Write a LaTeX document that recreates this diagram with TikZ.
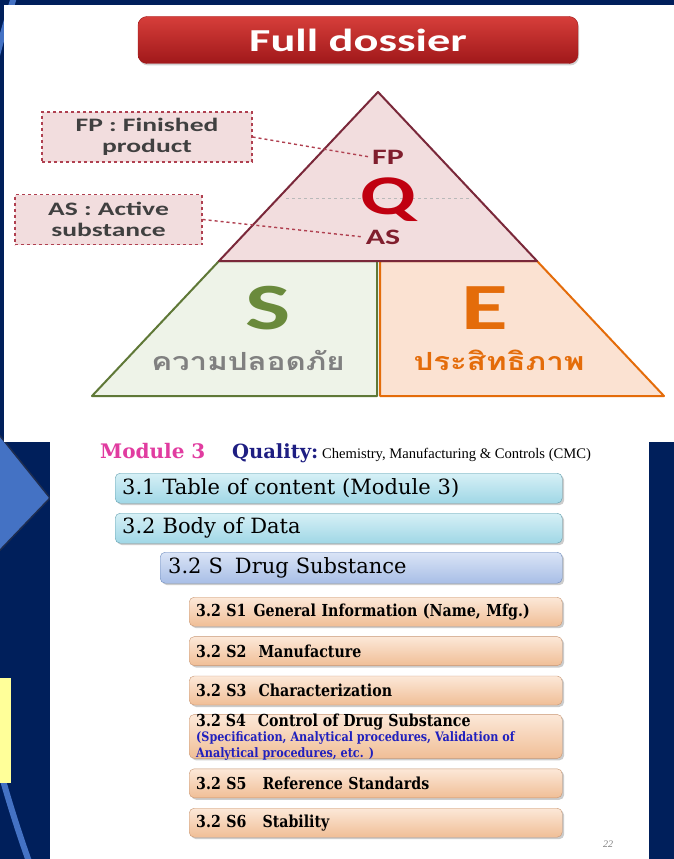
\documentclass[tikz,border=0pt]{standalone}
\usepackage{fontspec}
\usepackage{tikz}
\usetikzlibrary{positioning, shadows}

\newfontfamily\calfont[FakeStretch=1.45]{Carlito}
\newfontfamily\thaifont[Script=Thai,FakeStretch=1.25]{Loma}
\newfontfamily\tocfont{DejaVu Serif}
\newfontfamily\itemfont[FakeStretch=0.86]{DejaVu Serif}
\newfontfamily\timesfont{Liberation Serif}

\definecolor{slidenavy}{RGB}{0,31,91}
\definecolor{arcblue}{RGB}{68,114,196}
\definecolor{chevronedge}{RGB}{30,45,80}
\definecolor{noteyellow}{RGB}{255,255,153}
\definecolor{dossiertop}{RGB}{214,62,58}
\definecolor{dossierbottom}{RGB}{160,24,26}
\definecolor{qfill}{RGB}{242,221,222}
\definecolor{qline}{RGB}{122,40,58}
\definecolor{qred}{RGB}{192,0,16}
\definecolor{fpred}{RGB}{128,30,45}
\definecolor{notered}{RGB}{176,64,80}
\definecolor{notetext}{RGB}{64,64,64}
\definecolor{sfill}{RGB}{238,243,232}
\definecolor{sline}{RGB}{95,120,55}
\definecolor{sletter}{RGB}{106,138,60}
\definecolor{efill}{RGB}{251,226,210}
\definecolor{eline}{RGB}{228,108,10}
\definecolor{modpink}{RGB}{225,60,160}
\definecolor{qualnavy}{RGB}{30,30,130}
\definecolor{toctop}{RGB}{214,240,246}
\definecolor{tocbottom}{RGB}{160,215,230}
\definecolor{tocline}{RGB}{100,160,175}
\definecolor{drugtop}{RGB}{218,228,246}
\definecolor{drugbottom}{RGB}{168,190,230}
\definecolor{drugline}{RGB}{110,140,190}
\definecolor{itemtop}{RGB}{252,232,216}
\definecolor{itembottom}{RGB}{240,190,150}
\definecolor{itemline}{RGB}{200,150,115}
\definecolor{notblue}{RGB}{32,32,190}

\begin{document}
\begin{tikzpicture}[
  x=1pt, y=-1pt,
  dossier/.style={rounded corners=9pt, top color=dossiertop, bottom color=dossierbottom, draw=dossierbottom,
    minimum width=440pt, minimum height=47pt, text=white, font=\calfont\bfseries\fontsize{32}{36}\selectfont,
    drop shadow={shadow xshift=1pt, shadow yshift=-2pt, opacity=0.35}},
  notebox/.style={draw=notered, dashed, line width=1.3pt, fill=qfill, minimum width=#1, minimum height=50pt,
    align=center, text=notetext, font=\calfont\bfseries\fontsize{19}{21}\selectfont},
  leader/.style={notered, dashed, line width=1.4pt},
  qlabel/.style={text=fpred, inner sep=2pt, font=\calfont\bfseries\fontsize{22}{24}\selectfont},
  bigletter/.style={font=\calfont\bfseries\fontsize{66}{70}\selectfont},
  thailabel/.style={font=\thaifont\bfseries\fontsize{25}{28}\selectfont},
  listbox/.style={rounded corners=5pt, minimum height=29pt, align=left, inner xsep=7pt, inner ysep=0pt,
    drop shadow={shadow xshift=2pt, shadow yshift=-2pt, opacity=0.4}},
  tocbox/.style={listbox, draw=tocline, top color=toctop, bottom color=tocbottom, minimum height=30pt,
    text width=433pt, font=\tocfont\fontsize{21}{24}\selectfont},
  drugbox/.style={listbox, draw=drugline, top color=drugtop, bottom color=drugbottom, minimum height=31pt,
    inner xsep=8pt, text width=386pt, font=\tocfont\fontsize{21}{24}\selectfont},
  itembox/.style={listbox, draw=itemline, top color=itemtop, bottom color=itembottom,
    text width=359pt, font=\itemfont\bfseries\fontsize{16.5}{19}\selectfont}
]
\useasboundingbox (0,0) rectangle (674,859);
\fill[slidenavy] (0,0) rectangle (674,859);
\begin{scope}
  \clip (0,0) rectangle (674,859);
  \draw[arcblue, line width=6pt] (1308,407) circle [radius=1357pt];
\end{scope}
\filldraw[arcblue, draw=chevronedge, line width=1.5pt] (-20,411) -- (50,498) -- (-20,571) -- cycle;
\fill[noteyellow] (0,678) rectangle (11,783);
\fill[white] (4,5) rectangle (674,442);
\fill[white] (50,442) rectangle (649,859);

\node[dossier] (dossier) at (358,40) {Full dossier};

\coordinate (apex) at (378,92);
\coordinate (ql) at (219,261);
\coordinate (qr) at (537,261);
\coordinate (bl) at (92,396);
\coordinate (br) at (664,396);
\filldraw[sline, fill=sfill, line width=2pt, line join=round] (ql) -- (377,261) -- (377,396) -- (bl) -- cycle;
\filldraw[eline, fill=efill, line width=2pt, line join=round] (380,261) -- (qr) -- (br) -- (380,396) -- cycle;
\filldraw[qline, fill=qfill, line width=2pt, line join=round] (apex) -- (qr) -- (ql) -- cycle;
\draw[dashed, gray!55, line width=0.8pt] (286,198) -- (469,198);

\node[qlabel] (fplabel) at (388,157) {FP};
\node[text=qred, font=\calfont\bfseries\fontsize{56}{60}\selectfont] (qletter) at (388,200) {Q};
\node[qlabel] (aslabel) at (383,237) {AS};
\node[notebox=210pt] (fpbox) at (147,137) {FP : Finished\\product};
\node[notebox=187pt] (asbox) at (108.5,219.5) {AS : Active\\substance};
\draw[leader] (fpbox.east) -- (fplabel.west);
\draw[leader] (asbox.east) -- (aslabel.west);

\node[bigletter, text=sletter] (sletter) at (268,308) {S};
\node[bigletter, text=eline] (eletter) at (485,308) {E};
\node[thailabel, text=gray] (sthai) at (248,360) {ความปลอดภัย};
\node[thailabel, text=eline] (ethai) at (499,360) {ประสิทธิภาพ};

\node[anchor=base west, inner sep=0pt, text=modpink, font=\tocfont\bfseries\fontsize{20}{24}\selectfont] (modhead) at (100,458) {Module 3};
\node[anchor=base west, inner sep=0pt, text=qualnavy, font=\tocfont\bfseries\fontsize{19.5}{24}\selectfont] (qualhead) at (232,458) {Quality:};
\node[anchor=base west, inner sep=0pt, font=\timesfont\fontsize{14.6}{16}\selectfont] (cmchead) at (322,458) {Chemistry, Manufacturing \& Controls (CMC)};

\node[tocbox, anchor=north west] (toc) at (115,473) {3.1 Table of content (Module 3)};
\node[tocbox, anchor=north west] (body) at (115,513) {3.2 Body of Data};
\node[drugbox, anchor=north west] (drug) at (160,552) {3.2 S\hspace{12pt}Drug Substance};

\node[itembox, anchor=north west] (s1) at (189,597) {3.2 S1\hspace{7pt}General Information (Name, Mfg.)};
\node[itembox, below=10pt of s1] (s2) {3.2 S2\hspace{12pt}Manufacture};
\node[itembox, below=10pt of s2] (s3) {3.2 S3\hspace{12pt}Characterization};
\node[itembox, below=9pt of s3, minimum height=44pt] (s4) {};
\node[anchor=north west, inner xsep=7pt, inner ysep=0pt, font=\itemfont\bfseries\fontsize{16.5}{19}\selectfont] (s4title) at (s4.north west) {3.2 S4\hspace{12pt}Control of Drug Substance};
\node[anchor=north west, inner xsep=7pt, inner ysep=1pt, align=left, text=notblue, font=\itemfont\bfseries\fontsize{13}{16}\selectfont] (s4note) at (s4title.south west) {(Specification, Analytical procedures, Validation of\\Analytical procedures, etc. )};
\node[itembox, below=10pt of s4] (s5) {3.2 S5\hspace{16pt}Reference Standards};
\node[itembox, below=10pt of s5] (s6) {3.2 S6\hspace{16pt}Stability};

\node[text=gray, font=\timesfont\itshape\fontsize{10}{12}\selectfont] (pagenum) at (608,844) {22};
\end{tikzpicture}
\end{document}
